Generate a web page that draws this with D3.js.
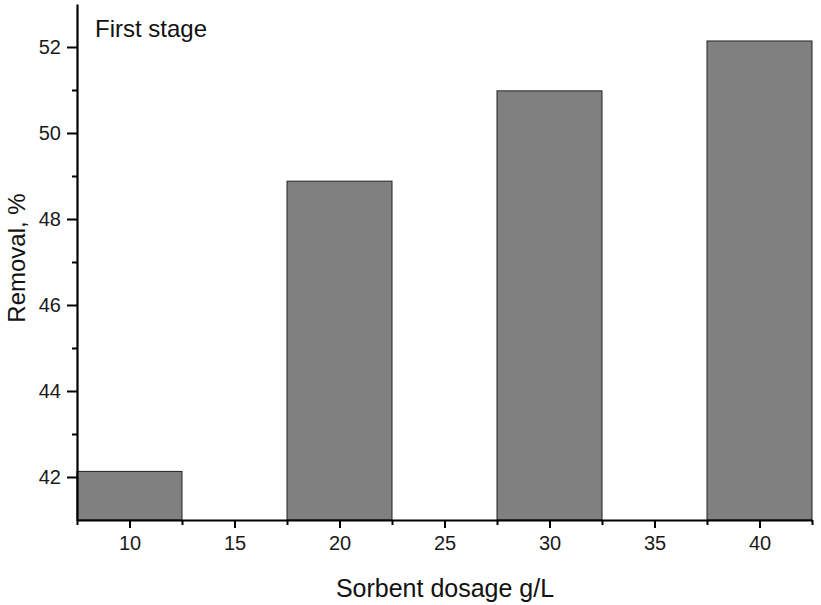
<html>
  <body style="margin:0;background:#fff">
    <script src="https://d3js.org/d3.v7.min.js"></script>
    <svg id="chart"></svg>
    <script>
      // data
      const dosage = [10, 20, 30, 40];
      const removal = [42.13, 48.88, 50.98, 52.14];
      const xMajorTicks = [10, 15, 20, 25, 30, 35, 40];
      const xMinorTicks = [7.5, 12.5, 17.5, 22.5, 27.5, 32.5, 37.5, 42.5];
      const yMajorTicks = [42, 44, 46, 48, 50, 52];
      const yMinorTicks = [43, 45, 47, 49, 51];

      const width = 821, height = 605;
      const margin = { top: 4, right: 9, bottom: 85, left: 77 };
      const innerW = width - margin.left - margin.right;
      const innerH = height - margin.top - margin.bottom;
      const font = '"Liberation Sans", Arial, sans-serif';

      const svg = d3.select('#chart').attr('width', width).attr('height', height);

      const x = d3.scaleLinear().domain([7.5, 42.5]).range([0, innerW]);
      const y = d3.scaleLinear().domain([41, 53]).range([innerH, 0]);
      const barW = 5;

      const g = svg.append('g').attr('transform', `translate(${margin.left},${margin.top})`);

      g.selectAll('rect.bar')
        .data(dosage)
        .join('rect')
        .attr('class', 'bar')
        .attr('x', d => x(d - barW / 2))
        .attr('width', d => x(d + barW / 2) - x(d - barW / 2))
        .attr('y', (d, i) => y(removal[i]))
        .attr('height', (d, i) => innerH - y(removal[i]))
        .attr('fill', '#808080')
        .attr('stroke', '#222')
        .attr('stroke-width', 1);

      const styleTicks = sel => sel.selectAll('.tick text')
        .attr('font-family', font)
        .attr('font-size', 20)
        .attr('fill', '#1a1a1a');

      // x axis: major + minor ticks
      const xAxis = g.append('g').attr('transform', `translate(0,${innerH})`)
        .call(d3.axisBottom(x).tickValues(xMajorTicks).tickSize(8).tickPadding(8).tickSizeOuter(0));
      xAxis.select('.domain').attr('stroke-width', 2.2);
      xAxis.selectAll('.tick line').attr('stroke-width', 2);
      styleTicks(xAxis);
      g.append('g').attr('transform', `translate(0,${innerH})`)
        .call(d3.axisBottom(x).tickValues(xMinorTicks).tickSize(5).tickFormat('').tickSizeOuter(0))
        .call(s => s.select('.domain').remove())
        .selectAll('.tick line').attr('stroke-width', 2);

      // y axis
      const yAxis = g.append('g')
        .call(d3.axisLeft(y).tickValues(yMajorTicks).tickSize(10).tickPadding(6).tickSizeOuter(0));
      yAxis.select('.domain').attr('stroke-width', 2.2);
      yAxis.selectAll('.tick line').attr('stroke-width', 2);
      styleTicks(yAxis);
      g.append('g')
        .call(d3.axisLeft(y).tickValues(yMinorTicks).tickSize(5).tickFormat('').tickSizeOuter(0))
        .call(s => s.select('.domain').remove())
        .selectAll('.tick line').attr('stroke-width', 2);

      svg.append('text')
        .attr('x', 95).attr('y', 37)
        .attr('font-family', font).attr('font-size', 24).attr('fill', '#111')
        .text('First stage');

      svg.append('text')
        .attr('transform', 'translate(25,258) rotate(-90)')
        .attr('text-anchor', 'middle')
        .attr('font-family', font).attr('font-size', 24).attr('fill', '#111')
        .text('Removal, %');

      svg.append('text')
        .attr('x', 445).attr('y', 597)
        .attr('text-anchor', 'middle')
        .attr('font-family', font).attr('font-size', 25).attr('fill', '#111')
        .text('Sorbent dosage g/L');
    </script>
  </body>
</html>
